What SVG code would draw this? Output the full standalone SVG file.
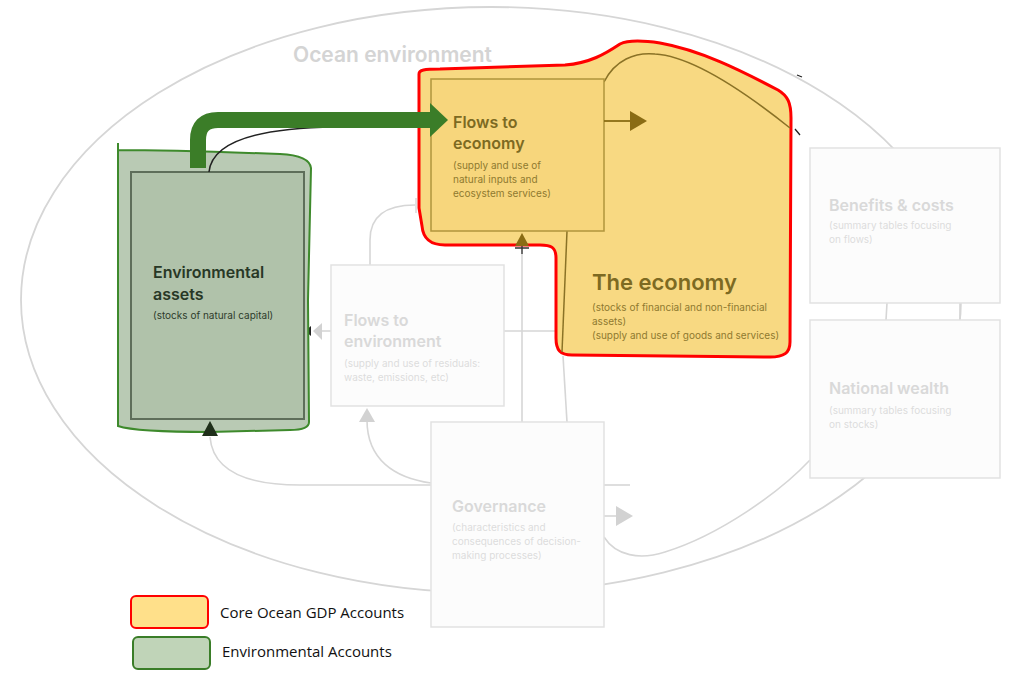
<svg xmlns="http://www.w3.org/2000/svg" width="1022" height="684" viewBox="0 0 1022 684">
<style>
.t{font-family:Inter,"Noto Sans","Liberation Sans",sans-serif}
.ghost{fill:#fcfcfc;stroke:#e2e2e2;stroke-width:1.5}
.gt{fill:#d9d9d9;font-weight:600;font-size:16px}
.gs{fill:#dcdcdc;font-size:10px}
.ct{fill:#7d6a22;font-weight:600}
.cs{fill:#8f7a30;font-size:10px}
.gl{fill:none;stroke:#d6d6d6;stroke-width:1.6}
.legt{font-family:"Open Sans","Liberation Sans",sans-serif;font-size:15px;fill:#111}
</style>
<rect width="1022" height="684" fill="#fff"/>
<g id="ocean">
<ellipse cx="491" cy="300" rx="470" ry="293" fill="none" stroke="#d6d6d6" stroke-width="1.8"/>
<text class="t" x="293" y="62" font-size="21" font-weight="600" fill="#d4d4d4">Ocean environment</text>
</g>
<g id="connectors">
<path class="gl" d="M504,331 H560"/>
<path class="gl" d="M522,248 V422"/>
<path class="gl" d="M563,356 L567,422"/>
<path class="gl" d="M370,265 V240 Q370,205 415,205"/>
<path class="gl" d="M331,331 H320"/>
<path class="gl" d="M210,437 Q214,485 300,485 H431"/>
<path class="gl" d="M367,420 C367,460 395,478 431,483"/>
<path class="gl" d="M604,485 H630"/>
<path class="gl" d="M604,516 H618"/>
<path class="gl" d="M604,537 C616,556 640,560 665,552 C720,535 780,492 810,460"/>
<path class="gl" d="M887,303 L886,320 M960,303 L960,320"/>
<polygon points="616,506 633,516 616,526" fill="#d2d2d2"/>
<polygon points="359,422 367,408 375,422" fill="#d2d2d2"/>
<polygon points="322,323 313,331 322,340" fill="#d2d2d2"/>
<polygon points="311,326 305,331 311,336" fill="#222"/>
<polygon points="419,198 428,205 419,212" fill="#222"/>
<path d="M416,198 V213" stroke="#cfcfcf" stroke-width="1.2"/>
</g>
<g id="core-highlight">
<path d="M419,74 C419,70 424,69 440,69 L565,65 C590,63 605,54 620,44 C628,40 640,40 660,43 C700,50 740,70 778,90 C788,96 791,103 791,118 L790,342 C790,353 784,357 770,357 L572,355 C560,355 556,350 556,338 L556,258 C556,247 551,245 540,245 L445,245 C430,245 423,238 422,226 L419,208 Z" fill="#f8d982" stroke="#ff0000" stroke-width="3"/>
</g>
<g id="the-economy">
<path d="M604,82 C615,60 635,52 655,54 C690,56 740,88 790,128" fill="none" stroke="#8a7226" stroke-width="1.5"/>
<path d="M795,129 L800,135 M797,75 L802,77" stroke="#222" stroke-width="1.3"/>
<path d="M567,231 L562,352" fill="none" stroke="#8a7226" stroke-width="1.5"/>
<text class="t ct" x="592" y="290" font-size="22">The economy</text>
<text class="t cs" x="592" y="311">(stocks of financial and non-financial</text>
<text class="t cs" x="592" y="325">assets)</text>
<text class="t cs" x="592" y="339">(supply and use of goods and services)</text>
</g>
<g id="flows-to-economy">
<rect x="431" y="79" width="173" height="152" fill="#f7d67c" stroke="#b0953c" stroke-width="1.5"/>
<text class="t ct" x="453" y="128" font-size="16">Flows to</text>
<text class="t ct" x="453" y="149" font-size="16">economy</text>
<text class="t cs" x="453" y="169">(supply and use of</text>
<text class="t cs" x="453" y="183">natural inputs and</text>
<text class="t cs" x="453" y="197">ecosystem services)</text>
<path d="M604,121 H632" stroke="#8a6c14" stroke-width="1.8"/>
<polygon points="630,111 647,121 630,131" fill="#8a6c14"/>
<polygon points="515,246 522,233 529,246" fill="#8a6c14"/>
<path d="M515,248 H529 M522,246 V254" stroke="#333" stroke-width="1.3"/>
</g>
<g id="environmental-assets">
<path d="M118,143 L118,150 C150,150 200,151 280,154 C300,155 310,160 311,168 L308,300 L309,422 C309,428 300,430 290,430 L210,432 C170,432 130,430 118,426 Z" fill="#b9cab4" stroke="#3e8a2c" stroke-width="2"/>
<rect x="131" y="172" width="173" height="247" fill="#b0c2aa" stroke="#5e6e5a" stroke-width="2"/>
<text class="t" x="153" y="278" font-size="16" font-weight="600" fill="#283826">Environmental</text>
<text class="t" x="153" y="300" font-size="16" font-weight="600" fill="#283826">assets</text>
<text class="t" x="153" y="319" font-size="10" fill="#2e3c2c">(stocks of natural capital)</text>
<polygon points="202,436 210,421 218,436" fill="#1f2f1a"/>
<path d="M209,172 C212,142 255,128 335,127" fill="none" stroke="#222" stroke-width="1.5"/>
<path d="M198,168 V140 Q198,120 218,120 H432" fill="none" stroke="#3b7d28" stroke-width="16"/>
<polygon points="430,103 448,120 430,137" fill="#3b7d28"/>
</g>
<g id="flows-to-environment">
<rect class="ghost" x="331" y="265" width="173" height="141"/>
<text class="t gt" x="344" y="326">Flows to</text>
<text class="t gt" x="344" y="347">environment</text>
<text class="t gs" x="344" y="367">(supply and use of residuals:</text>
<text class="t gs" x="344" y="381">waste, emissions, etc)</text>
</g>
<g id="governance">
<rect class="ghost" x="431" y="422" width="173" height="205"/>
<text class="t gt" x="452" y="512">Governance</text>
<text class="t gs" x="452" y="531">(characteristics and</text>
<text class="t gs" x="452" y="545">consequences of decision-</text>
<text class="t gs" x="452" y="559">making processes)</text>
</g>
<g id="benefits-costs">
<rect class="ghost" x="810" y="148" width="190" height="155"/>
<text class="t gt" x="829" y="211">Benefits &amp; costs</text>
<text class="t gs" x="829" y="229">(summary tables focusing</text>
<text class="t gs" x="829" y="243">on flows)</text>
</g>
<g id="national-wealth">
<rect class="ghost" x="810" y="320" width="190" height="158"/>
<text class="t gt" x="829" y="394">National wealth</text>
<text class="t gs" x="829" y="414">(summary tables focusing</text>
<text class="t gs" x="829" y="428">on stocks)</text>
</g>
<g id="legend">
<rect x="131" y="596" width="77" height="32" rx="5" fill="#ffe08a" stroke="#ff0000" stroke-width="2"/>
<text class="legt" x="220" y="618">Core Ocean GDP Accounts</text>
<rect x="133" y="637" width="77" height="32" rx="5" fill="#c0d4b8" stroke="#3a7d28" stroke-width="2"/>
<text class="legt" x="222" y="657">Environmental Accounts</text>
</g>
</svg>
